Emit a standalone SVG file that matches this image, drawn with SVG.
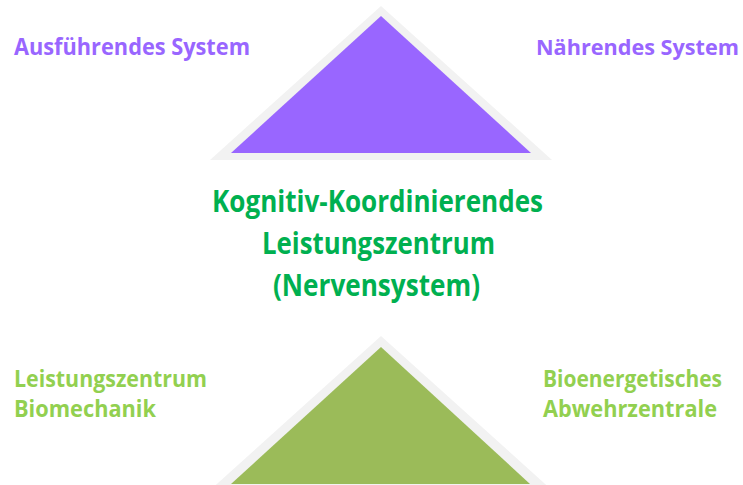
<svg xmlns="http://www.w3.org/2000/svg" width="743" height="485" viewBox="0 0 743 485">
<style>
text{font-family:"Open Sans","Noto Sans","Liberation Sans",sans-serif;font-weight:bold}
.p{fill:#9966ff;font-size:23.5px}
.g{fill:#92d050;font-size:23.5px}
.c{fill:#00b050;font-size:29.5px}
.frame{fill:#f2f2f2}
</style>
<rect width="743" height="485" fill="#ffffff"/>
<g id="top-triangle">
<polygon class="frame" points="381,6 210,160 552,160"/>
<polygon points="381,16 231,153 531,153" fill="#9966ff"/>
</g>
<g id="bottom-triangle">
<polygon class="frame" points="381,336 208,492 554,492"/>
<polygon points="381,347 231,484 530,484" fill="#9bbb59"/>
</g>
<g id="label-ausfuehrend"><text class="p" x="14" y="55" textLength="236" lengthAdjust="spacingAndGlyphs">Ausführendes System</text></g>
<g id="label-naehrend"><text class="p" x="536" y="55" style="font-size:22px" textLength="203" lengthAdjust="spacingAndGlyphs">Nährendes System</text></g>
<g id="label-center">
<text class="c" x="212" y="212" textLength="331" lengthAdjust="spacingAndGlyphs">Kognitiv-Koordinierendes</text>
<text class="c" x="262" y="254" textLength="233" lengthAdjust="spacingAndGlyphs">Leistungszentrum</text>
<text class="c" x="273" y="296" textLength="207" lengthAdjust="spacingAndGlyphs">(Nervensystem)</text>
</g>
<g id="label-biomechanik">
<text class="g" x="14" y="387" textLength="193" lengthAdjust="spacingAndGlyphs">Leistungszentrum</text>
<text class="g" x="14" y="417" textLength="142" lengthAdjust="spacingAndGlyphs">Biomechanik</text>
</g>
<g id="label-bioenergetisch">
<text class="g" x="543" y="387" textLength="179" lengthAdjust="spacingAndGlyphs">Bioenergetisches</text>
<text class="g" x="543" y="417" textLength="174" lengthAdjust="spacingAndGlyphs">Abwehrzentrale</text>
</g>
<g id="connectors"></g>
</svg>
